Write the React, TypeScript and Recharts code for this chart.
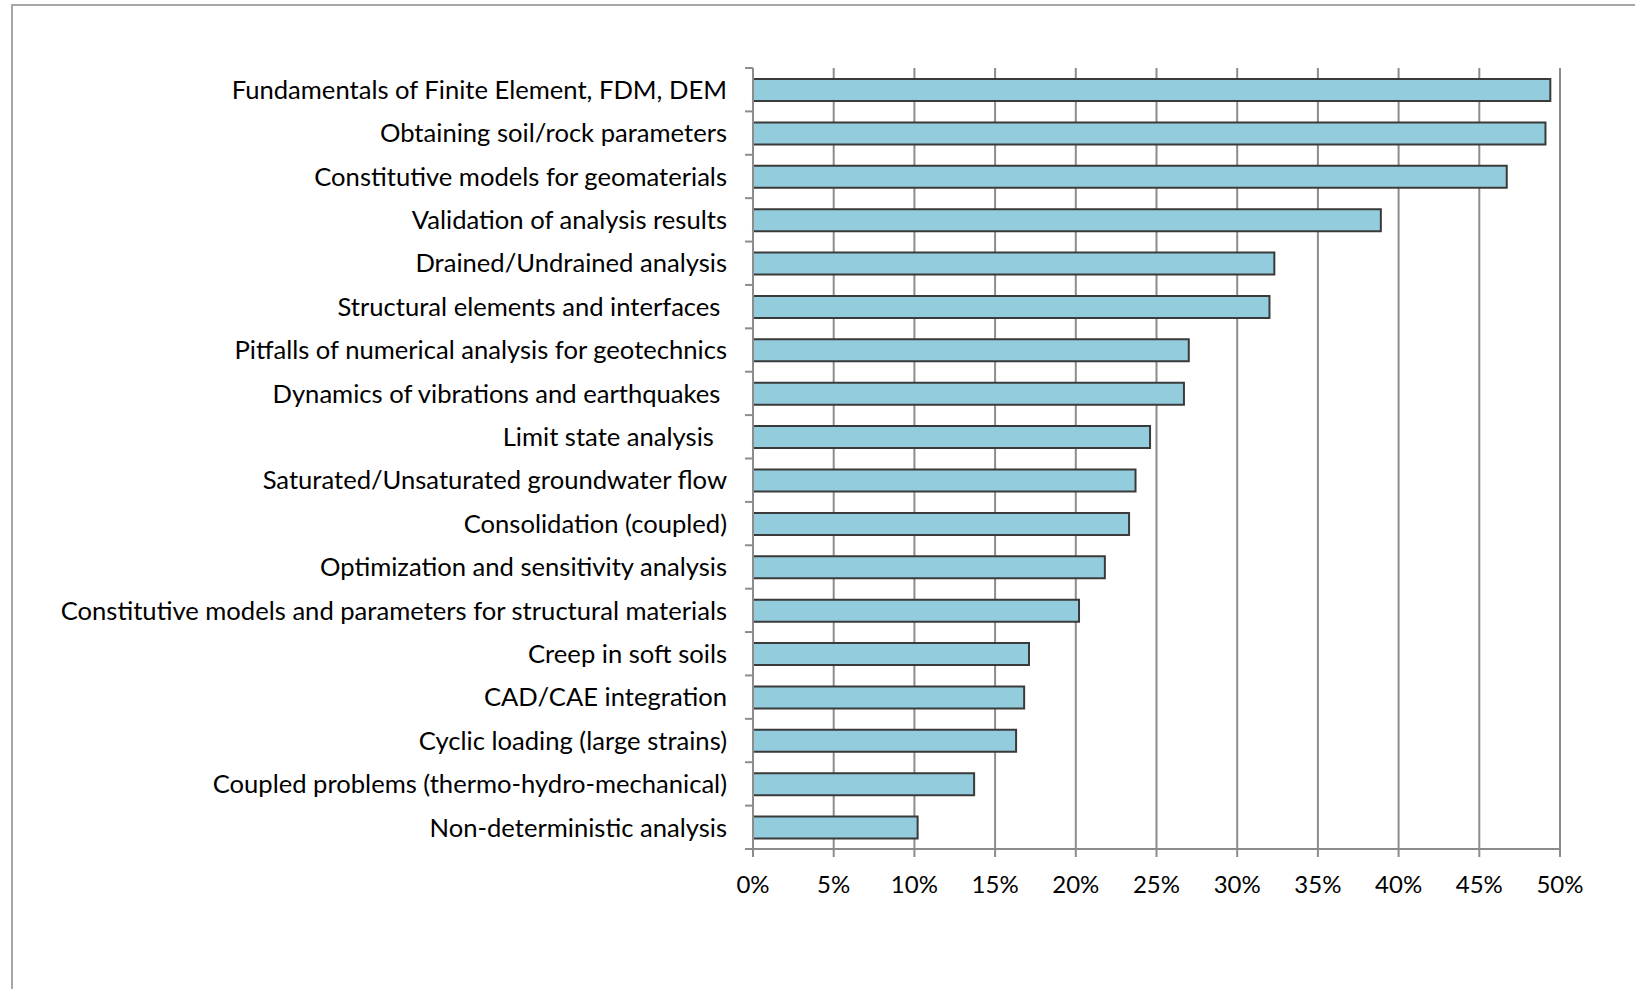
import React from 'react';
import { BarChart, Bar, XAxis, YAxis, CartesianGrid } from 'recharts';

const topics: string[] = [
  'Fundamentals of Finite Element, FDM, DEM',
  'Obtaining soil/rock parameters',
  'Constitutive models for geomaterials',
  'Validation of analysis results',
  'Drained/Undrained analysis',
  'Structural elements and interfaces ',
  'Pitfalls of numerical analysis for geotechnics',
  'Dynamics of vibrations and earthquakes ',
  'Limit state analysis  ',
  'Saturated/Unsaturated groundwater flow',
  'Consolidation (coupled)',
  'Optimization and sensitivity analysis',
  'Constitutive models and parameters for structural materials',
  'Creep in soft soils',
  'CAD/CAE integration',
  'Cyclic loading (large strains)',
  'Coupled problems (thermo-hydro-mechanical)',
  'Non-deterministic analysis',
];

const shares: number[] = [
  49.4, 49.1, 46.7, 38.9, 32.3, 32.0, 27.0, 26.7, 24.6, 23.7, 23.3, 21.8, 20.2, 17.1, 16.8, 16.3, 13.7, 10.2,
];

const xTicks: number[] = [0, 5, 10, 15, 20, 25, 30, 35, 40, 45, 50];

const data = topics.map((name, i) => ({ name, value: shares[i] }));

const FONT = 'Lato, "Open Sans", sans-serif';
const LABEL_SIZE = 25.6;
const TICK_FONT_SIZE = 24;
const TICK_SIZE = 8;
const TICK_MARGIN = 18;

const YTick = (props: any) => {
  const { x, y, payload, index } = props;
  const axisX = x + TICK_SIZE + TICK_MARGIN;
  const off = payload.offset || 0;
  return (
    <g>
      {index === 0 && (
        <line x1={axisX - TICK_SIZE} x2={axisX} y1={y - off} y2={y - off} stroke="#8c8c8c" strokeWidth={2} />
      )}
      <line x1={axisX - TICK_SIZE} x2={axisX} y1={y + off} y2={y + off} stroke="#8c8c8c" strokeWidth={2} />
      <text
        x={x}
        y={y}
        dy="0.36em"
        textAnchor="end"
        fill="#000"
        style={{ whiteSpace: 'pre', fontFamily: FONT, fontSize: LABEL_SIZE }}
      >
        {payload.value}
      </text>
    </g>
  );
};

export default function App() {
  return (
    <div style={{ position: 'absolute', left: 0, top: 0, width: 1635, height: 989, background: '#fff', overflow: 'hidden' }}>
      <div
        style={{
          position: 'absolute',
          left: 11,
          top: 4,
          width: 1700,
          height: 1100,
          borderLeft: '2px solid #a6a6a6',
          borderTop: '2px solid #a6a6a6',
        }}
      />
      <div style={{ position: 'absolute', left: 0, top: 0 }}>
        <BarChart
          width={1635}
          height={989}
          data={data}
          layout="vertical"
          margin={{ top: 68, right: 75, bottom: 100, left: 0 }}
          barSize={22}
        >
          <CartesianGrid horizontal={false} vertical={true} stroke="#8c8c8c" strokeWidth={2} />
          <XAxis
            type="number"
            domain={[0, 50]}
            ticks={xTicks}
            interval={0}
            tickFormatter={(v: number) => `${v}%`}
            height={40}
            tickSize={TICK_SIZE}
            tickMargin={19}
            axisLine={{ stroke: '#8c8c8c', strokeWidth: 2 }}
            tickLine={{ stroke: '#8c8c8c', strokeWidth: 2 }}
            tick={{ fill: '#000', fontFamily: FONT, fontSize: TICK_FONT_SIZE }}
          />
          <XAxis
            xAxisId="top"
            orientation="top"
            type="number"
            domain={[0, 50]}
            height={0}
            tick={false}
            tickLine={false}
            axisLine={{ stroke: '#8c8c8c', strokeWidth: 2 }}
          />
          <YAxis
            type="category"
            dataKey="name"
            width={753}
            interval={0}
            tickSize={TICK_SIZE}
            tickMargin={TICK_MARGIN}
            tickLine={false}
            axisLine={{ stroke: '#8c8c8c', strokeWidth: 2 }}
            tick={<YTick />}
          />
          <YAxis
            yAxisId="right"
            orientation="right"
            type="category"
            dataKey="name"
            width={0}
            tick={false}
            tickLine={false}
            axisLine={{ stroke: '#4d4d4d', strokeWidth: 2 }}
          />
          <Bar
            dataKey="value"
            fill="#93cddd"
            stroke="#3a3a3a"
            strokeWidth={2}
            isAnimationActive={false}
          />
        </BarChart>
      </div>
    </div>
  );
}
